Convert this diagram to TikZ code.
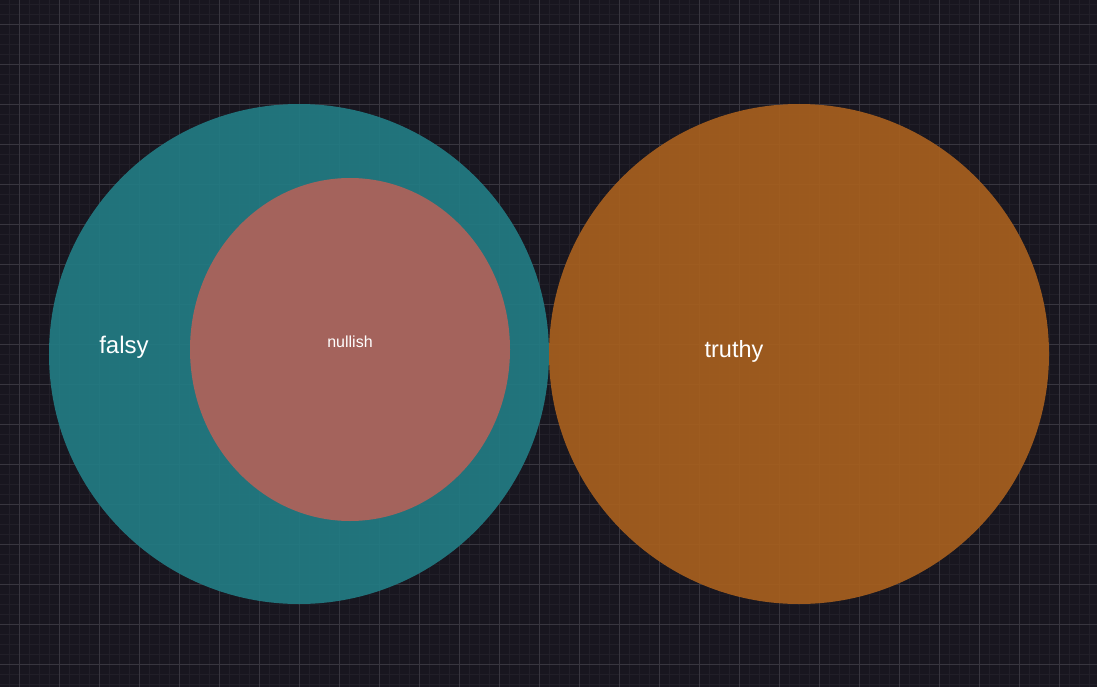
\documentclass[tikz,border=0pt]{standalone}
\usepackage{fontspec}
\setmainfont{Liberation Sans}
\definecolor{bg}{HTML}{18161F}
\definecolor{gridminor}{HTML}{211F28}
\definecolor{gridmajor}{HTML}{38363F}
\definecolor{tealc}{HTML}{227B83}
\definecolor{nullc}{HTML}{AE625A}
\definecolor{orangec}{HTML}{A65F1E}
\tikzset{
  setshape/.style={draw=none, fill opacity=0.93},
  lbl/.style={text=white, inner sep=0pt, font=\fontsize{#1}{#1}\selectfont},
}
\begin{document}
\begin{tikzpicture}[x=1pt,y=-1pt]
\fill[bg] (0,0) rectangle (1097,687);
\useasboundingbox (0,0) rectangle (1097,687);
% minor grid
\foreach \x in {9.5,19.5,...,1097} \draw[gridminor, line width=0.8pt] (\x,0) -- (\x,687);
\foreach \y in {4,14,...,687} \draw[gridminor, line width=0.8pt] (0,\y) -- (1097,\y);
% major grid
\foreach \x in {19.5,59.5,...,1097} \draw[gridmajor, line width=0.9pt] (\x,0) -- (\x,687);
\foreach \y in {24,64,...,687} \draw[gridmajor, line width=0.9pt] (0,\y) -- (1097,\y);
% sets
\fill[tealc, setshape] (299,354) circle [radius=250];
\fill[nullc, setshape] (350,349.5) ellipse [x radius=160, y radius=171.5];
\fill[orangec, setshape] (799,354) circle [radius=250];
% labels
\node[lbl=24] (falsy) at (124,347) {falsy};
\node[lbl=16] (nullish) at (350,342) {nullish};
\node[lbl=23.5] (truthy) at (734,351) {truthy};
\end{tikzpicture}
\end{document}
